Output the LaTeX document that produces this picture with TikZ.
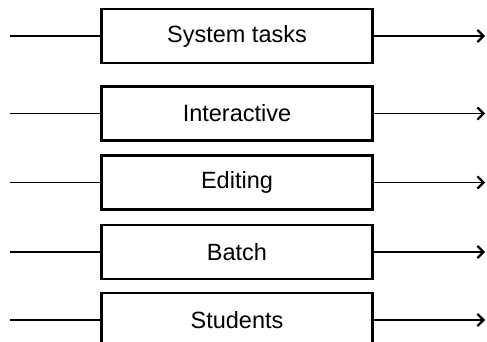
\documentclass[tikz,border=0pt]{standalone}
\usepackage{fontspec}
\setmainfont{Liberation Sans}
\usetikzlibrary{arrows.meta}
\begin{document}
\begin{tikzpicture}[x=1pt,y=-1pt,
  taskbox/.style={draw=black,line width=2.2pt,minimum width=271pt,minimum height=54pt,inner sep=0pt,font=\fontsize{23.5}{28}\selectfont},
  conn/.style={line width=1.3pt,draw=black},
  arr/.style={conn,-{Straight Barb[length=6pt,width=12pt,line width=2.2pt]}}]
\clip (0,0) rectangle (487,342);
\useasboundingbox (0,0) rectangle (487,342);
\node[taskbox] (b1) at (237,36) {System tasks};
\node[taskbox] (b2) at (237,113.5) {Interactive};
\node[taskbox] (b3) at (237,182.5) {Editing};
\node[taskbox] (b4) at (237,252) {Batch};
\node[taskbox] (b5) at (237,320) {Students};
\foreach \i/\y in {1/36,2/113.5,3/182.5,4/252,5/320}{
  \coordinate (l\i) at (10,\y);
  \coordinate (r\i) at (485,\y);
  \draw[conn] (l\i) -- (b\i.west);
  \draw[arr] (b\i.east) -- (r\i);
}
\end{tikzpicture}
\end{document}
